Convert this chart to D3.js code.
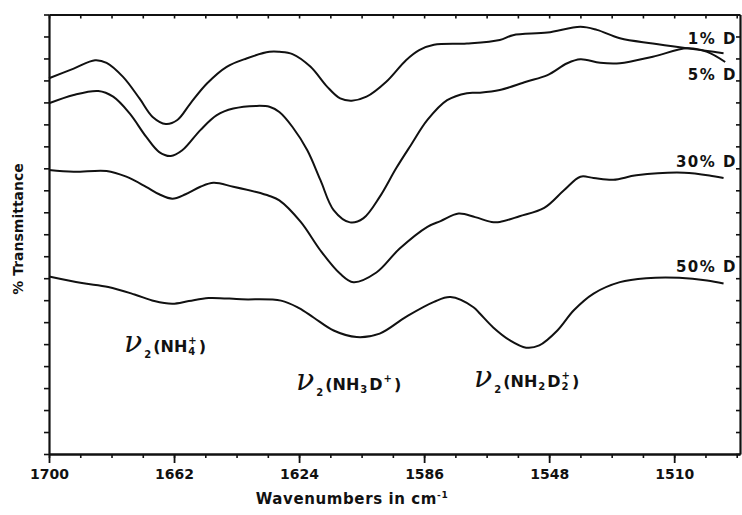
<!DOCTYPE html>
<html>
<head>
<meta charset="utf-8">
<script src="https://cdn.jsdelivr.net/npm/d3@7"></script>
<style>
  body { margin: 0; background: #fff; }
  svg { display: block; }
  text { font-family: "DejaVu Sans", sans-serif; font-weight: bold; fill: #111; }
  .nu { font-family: "DejaVu Serif", serif; font-style: italic; font-weight: normal; }
</style>
</head>
<body>
<svg id="chart" width="742" height="515"></svg>
<script>
// IR spectra of ammonium salts at increasing deuteration, 1700–1490 cm⁻¹
const majorTicks = [1700, 1662, 1624, 1586, 1548, 1510];
const transTicks = d3.range(0, 101, 5);

// 1% D
const wn01 = [1700, 1692.5, 1686, 1682.5, 1677.5, 1672.5, 1668.5, 1664.5, 1661, 1657, 1652, 1646, 1640, 1633, 1630, 1626, 1620.5, 1615.5, 1611.5, 1608, 1603.5, 1597.5, 1591.5, 1587.5, 1583, 1573, 1563, 1559, 1548.5, 1538.5, 1533.5, 1526.5, 1516.5, 1506, 1498, 1495];
const tr01 = [85.5, 87.7, 89.6, 89.0, 85.8, 80.9, 76.7, 75.1, 76.0, 79.8, 84.3, 88.1, 90.0, 91.5, 91.5, 91.0, 88.1, 83.6, 80.9, 80.4, 81.3, 84.7, 89.6, 91.9, 93.1, 93.4, 94.2, 95.3, 95.9, 97.2, 96.5, 94.6, 93.4, 92.3, 91.5, 91.2];

// 5% D
const wn05 = [1700, 1692.5, 1685, 1680.5, 1675.5, 1670.5, 1666.5, 1663, 1659.5, 1654, 1649, 1644, 1637, 1633, 1630, 1626, 1621.5, 1617.5, 1613.5, 1608.5, 1604.5, 1599.5, 1594.5, 1590, 1585, 1579, 1573, 1569, 1563, 1555, 1548.5, 1542.5, 1538.5, 1532.5, 1526.5, 1516.5, 1506, 1500, 1494.5];
const tr05 = [79.8, 81.7, 82.6, 81.3, 77.5, 72.2, 68.7, 67.8, 69.1, 73.7, 77.1, 78.6, 79.2, 79.0, 77.8, 74.4, 69.1, 62.3, 55.5, 52.7, 53.6, 58.5, 65.0, 70.3, 76.0, 80.5, 82.1, 82.2, 82.8, 84.7, 86.2, 88.9, 89.8, 89.0, 88.9, 90.4, 92.3, 91.5, 89.2];

// 30% D
const wn30 = [1700, 1692.5, 1682.5, 1676.5, 1670.5, 1666.5, 1662.5, 1658.5, 1654, 1650, 1644, 1637, 1633, 1630, 1623.5, 1617.5, 1611.5, 1607.5, 1600.5, 1593.5, 1585, 1581, 1575.5, 1570.5, 1565.5, 1563, 1557, 1549.5, 1543.5, 1538.5, 1534.5, 1528.5, 1521.5, 1507, 1498, 1495];
const tr30 = [64.6, 64.2, 64.4, 63.1, 60.8, 59.1, 58.1, 59.1, 60.8, 61.7, 60.8, 59.6, 58.7, 57.7, 52.8, 46.3, 41.0, 39.1, 41.3, 46.7, 51.7, 53.0, 54.7, 53.9, 52.8, 52.8, 54.1, 56.0, 60.0, 63.1, 62.8, 62.4, 63.4, 64.0, 63.2, 62.8];

// 50% D
const wn50 = [1700, 1690, 1682, 1674, 1668, 1662.5, 1657.5, 1651.5, 1641.5, 1629.5, 1624, 1619.5, 1613.5, 1606.5, 1599.5, 1591.5, 1583, 1578, 1571, 1569, 1565, 1560, 1555, 1551, 1545.5, 1540.5, 1534.5, 1526.5, 1518.5, 1508.5, 1500, 1495];
const tr50 = [40.4, 38.9, 38.0, 36.3, 34.8, 34.2, 34.8, 35.5, 35.2, 34.9, 33.2, 31.0, 28.1, 26.6, 27.4, 31.2, 34.6, 35.7, 33.4, 31.9, 28.8, 25.9, 24.2, 24.7, 28.1, 32.7, 36.5, 39.1, 40.0, 40.1, 39.5, 38.8];

const seriesNames = ["1% D", "5% D", "30% D", "50% D"];
const seriesWn = [wn01, wn05, wn30, wn50];
const seriesTr = [tr01, tr05, tr30, tr50];
// transmittance level at which each series label sits
const labelLevels = [93.4, 85.0, 65.2, 41.3];

const ink = "#111";
const svg = d3.select("#chart");

const x = d3.scaleLinear().domain([1700, 1490]).range([49, 740]);
const y = d3.scaleLinear().domain([0, 100]).range([454, 14.5]);
const minorTicks = d3.range(0, 23).map(i => 1700 - 9.5 * i);

function styleAxis(g, domainW, tickW) {
  g.attr("font-family", null).attr("font-size", null);
  g.select(".domain").attr("stroke", ink).attr("stroke-width", domainW);
  g.selectAll(".tick line").attr("stroke", ink).attr("stroke-width", tickW);
}

// bottom axis: minor ticks, then labelled major ticks
svg.append("g").attr("transform", `translate(0,${y(0)})`)
  .call(d3.axisBottom(x).tickValues(minorTicks).tickSize(4).tickSizeOuter(0).tickFormat(""))
  .call(g => styleAxis(g, 2.2, 1.6));
svg.append("g").attr("transform", `translate(0,${y(0)})`)
  .call(d3.axisBottom(x).tickValues(majorTicks).tickSize(9).tickSizeOuter(0).tickPadding(6).tickFormat(d3.format("d")))
  .call(g => styleAxis(g, 2.2, 1.8))
  .call(g => g.selectAll(".tick text").attr("fill", ink).style("font-size", "14px"));

// top axis, ticks pointing inward
svg.append("g").attr("transform", `translate(0,${y(100)})`)
  .call(d3.axisTop(x).tickValues(minorTicks).tickSize(-4).tickSizeOuter(0).tickFormat(""))
  .call(g => styleAxis(g, 2.2, 1.6));

// left axis, ticks pointing outward
svg.append("g").attr("transform", `translate(${x(1700)},0)`)
  .call(d3.axisLeft(y).tickValues(transTicks).tickSize(5).tickSizeOuter(0).tickFormat(""))
  .call(g => styleAxis(g, 2.2, 1.6));

// right axis, ticks pointing inward
svg.append("g").attr("transform", `translate(${x(1490)},0)`)
  .call(d3.axisRight(y).tickValues(transTicks).tickSize(-4).tickSizeOuter(0).tickFormat(""))
  .call(g => styleAxis(g, 2.2, 1.6));

// spectra
const line = d3.line()
  .x(d => x(d[0]))
  .y(d => y(d[1]))
  .curve(d3.curveCatmullRom.alpha(0.5));

seriesWn.forEach((wn, i) => {
  const pts = wn.map((w, k) => [w, seriesTr[i][k]]);
  svg.append("path")
    .datum(pts)
    .attr("d", line)
    .attr("fill", "none")
    .attr("stroke", ink)
    .attr("stroke-width", 2)
    .attr("stroke-linejoin", "round");
});

// series labels at the right edge
seriesNames.forEach((name, i) => {
  svg.append("text")
    .attr("x", x(1490) - 3)
    .attr("y", y(labelLevels[i]))
    .attr("text-anchor", "end")
    .style("font-size", "15px")
    .style("letter-spacing", "1.5px")
    .text(name);
});

// band assignments: ν₂ followed by an ion formula with stacked indices
function bandLabel(x0, base, parts) {
  const g = svg.append("g");
  let cx = x0;
  parts.forEach(p => {
    if (p.nu) {
      const t = g.append("text").attr("class", "nu").attr("x", cx).attr("y", base)
        .style("font-size", "30px").text("ν");
      cx += t.node().getComputedTextLength() + 1;
    }
    if (p.t) {
      const t = g.append("text").attr("x", cx).attr("y", base).style("font-size", "16px").text(p.t);
      cx += t.node().getComputedTextLength();
    }
    if (p.sup || p.sub) {
      let w = 0;
      if (p.sup) {
        const t = g.append("text").attr("x", cx + 1).attr("y", base - 8).style("font-size", "10px").text(p.sup);
        w = Math.max(w, t.node().getComputedTextLength());
      }
      if (p.sub) {
        const t = g.append("text").attr("x", cx + 1).attr("y", base + (p.low || 3)).style("font-size", "10px").text(p.sub);
        w = Math.max(w, t.node().getComputedTextLength());
      }
      cx += w + 3;
    }
  });
}

bandLabel(124, 352, [{ nu: true }, { sub: "2", low: 6 }, { t: "(NH" }, { sup: "+", sub: "4" }, { t: ")" }]);
bandLabel(296, 390, [{ nu: true }, { sub: "2", low: 6 }, { t: "(NH" }, { sub: "3" }, { t: "D" }, { sup: "+" }, { t: ")" }]);
bandLabel(474, 387, [{ nu: true }, { sub: "2", low: 6 }, { t: "(NH" }, { sub: "2" }, { t: "D" }, { sup: "+", sub: "2" }, { t: ")" }]);

// axis titles
svg.append("text")
  .attr("transform", `translate(23,229) rotate(-90)`)
  .attr("text-anchor", "middle")
  .style("font-size", "14px")
  .text("% Transmittance");

const xt = svg.append("text")
  .attr("x", 352)
  .attr("y", 504)
  .attr("text-anchor", "middle")
  .style("font-size", "15px")
  .style("letter-spacing", "0.6px");
xt.append("tspan").text("Wavenumbers in cm");
xt.append("tspan").attr("dy", -6).style("font-size", "9px").text("-1");
</script>
</body>
</html>
